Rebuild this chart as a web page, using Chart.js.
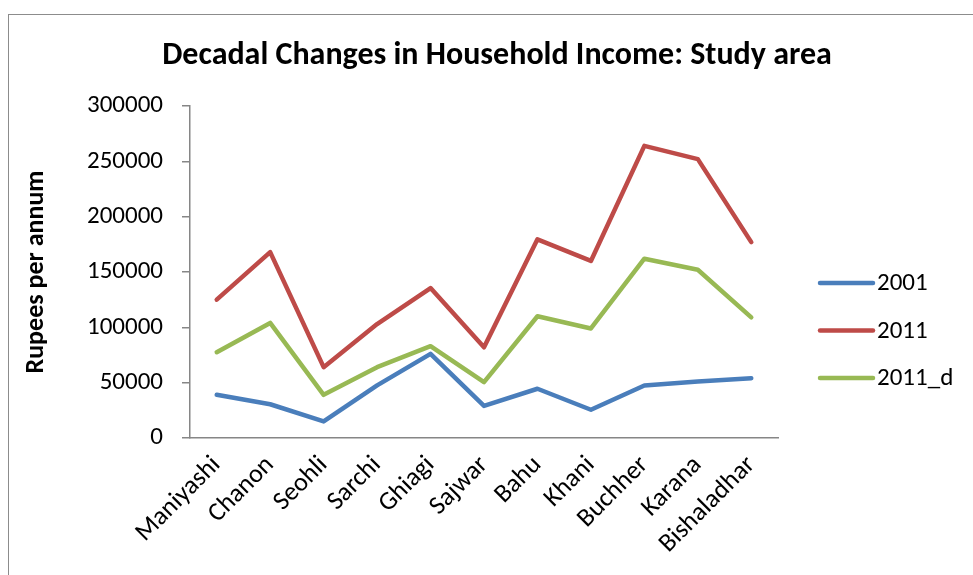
<!DOCTYPE html>
<html>
<head>
<meta charset="utf-8">
<title>Decadal Changes in Household Income</title>
<script src="https://cdn.jsdelivr.net/npm/chart.js@4/dist/chart.umd.min.js"></script>
<style>
    html, body { margin: 0; padding: 0; background: #fff; overflow: hidden; }
    #frame {
        position: absolute; left: 8px; top: 14px;
        width: 1000px; height: 600px;
        border: 1px solid #8c8c8c;
    }
    #wrap { position: absolute; left: 0; top: 0; width: 973px; height: 575px; }
</style>
</head>
<body>
<div id="frame"></div>
<div id="wrap"><canvas id="income-chart"></canvas></div>
<script>
// 村庄名称（横轴）
const villages = ['Maniyashi', 'Chanon', 'Seohli', 'Sarchi', 'Ghiagi', 'Sajwar',
    'Bahu', 'Khani', 'Buchher', 'Karana', 'Bishaladhar'];

// 家庭年收入（卢比/年）
const income2001 = [39000, 30500, 15000, 47500, 76000, 29000, 44500, 25500, 47500, 51000, 54000];
const income2011 = [125000, 168000, 64000, 103000, 135500, 82000, 179500, 160000, 264000, 252000, 177000];
const income2011d = [77500, 104000, 39000, 64000, 83000, 50500, 110000, 99000, 162000, 152000, 109000];

// 纵轴刻度
const yTicks = [0, 50000, 100000, 150000, 200000, 250000, 300000];

const FONT = 'Carlito, Lato, sans-serif';

// 右侧图例：按数据集绘制线段和名称
const sideLegend = {
    id: 'sideLegend',
    afterDraw(chart) {
        const ctx = chart.ctx;
        ctx.save();
        ctx.font = '25px ' + FONT;
        ctx.textBaseline = 'middle';
        ctx.textAlign = 'left';
        chart.data.datasets.forEach((ds, i) => {
            const y = 283 + i * 47.5;
            ctx.strokeStyle = ds.borderColor;
            ctx.lineWidth = 4.5;
            ctx.lineCap = 'round';
            ctx.beginPath();
            ctx.moveTo(820, y);
            ctx.lineTo(873, y);
            ctx.stroke();
            ctx.fillStyle = '#000';
            ctx.fillText(ds.label, 877, y + 1);
        });
        ctx.restore();
    }
};

function lineSet(label, data, color) {
    return {
        label: label,
        data: data,
        borderColor: color,
        backgroundColor: color,
        borderWidth: 4.5,
        borderCapStyle: 'round',
        borderJoinStyle: 'round',
        pointRadius: 0,
        tension: 0,
        fill: false
    };
}

const ctx = document.getElementById('income-chart').getContext('2d');
new Chart(ctx, {
    type: 'line',
    data: {
        labels: villages,
        datasets: [
            lineSet('2001', income2001, '#4a7ebb'),
            lineSet('2011', income2011, '#be4b48'),
            lineSet('2011_d', income2011d, '#98b954')
        ]
    },
    plugins: [sideLegend],
    options: {
        responsive: true,
        maintainAspectRatio: false,
        animation: false,
        layout: {
            padding: { left: 21, right: 0, top: 0, bottom: 0 }
        },
        plugins: {
            legend: { display: false },
            tooltip: { enabled: false },
            title: {
                display: true,
                text: 'Decadal Changes in Household Income: Study area',
                color: '#000',
                font: { family: FONT, size: 32, weight: 'bold' },
                padding: { top: 37, bottom: 30.6 }
            }
        },
        scales: {
            x: {
                offset: true,
                grid: { display: false, drawTicks: false },
                border: { display: true, color: '#868686', width: 1.5 },
                ticks: {
                    color: '#000',
                    font: { family: FONT, size: 26 },
                    maxRotation: 45,
                    minRotation: 45,
                    padding: 12,
                    autoSkip: false
                },
                afterFit(axis) { axis.height = 137; }
            },
            y: {
                min: 0,
                max: 300000,
                afterBuildTicks(axis) {
                    axis.ticks = yTicks.map(v => ({ value: v }));
                },
                grid: {
                    drawOnChartArea: false,
                    drawTicks: true,
                    tickLength: 8,
                    color: '#868686',
                    lineWidth: 1.5
                },
                border: { display: true, color: '#868686', width: 1.5 },
                ticks: {
                    color: '#000',
                    font: { family: FONT, size: 25 },
                    padding: 19,
                    callback: v => String(v)
                },
                title: {
                    display: true,
                    text: 'Rupees per annum',
                    color: '#000',
                    font: { family: FONT, size: 26, weight: 'bold' },
                    padding: { top: 0, bottom: 0 }
                },
                afterFit(axis) { axis.width = 169; }
            },
            // 右侧留白，用于放置图例
            legendSpace: {
                position: 'right',
                min: 0,
                max: 1,
                ticks: { display: false },
                grid: { display: false },
                border: { display: false },
                afterFit(axis) { axis.width = 195; }
            }
        }
    }
});
</script>
</body>
</html>
